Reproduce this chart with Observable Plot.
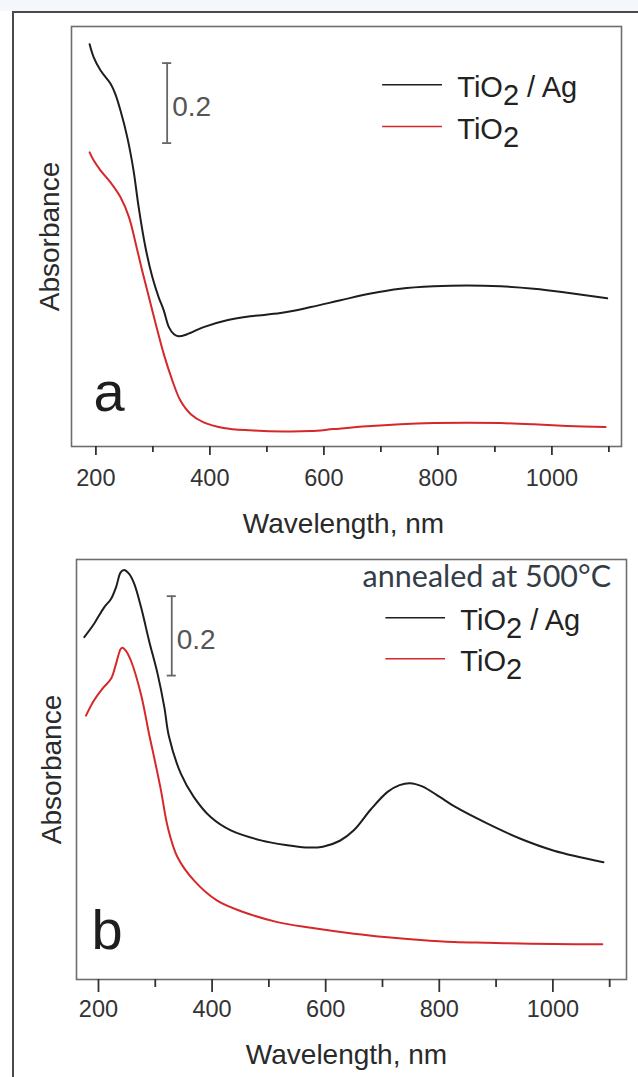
<!DOCTYPE html>
<html><head><meta charset="utf-8">
<script src="https://cdn.jsdelivr.net/npm/d3@7"></script>
<script src="https://cdn.jsdelivr.net/npm/@observablehq/plot@0.6"></script>
<style>
html,body{margin:0;padding:0;width:638px;height:1077px;overflow:hidden;background:#fff;}
#band{position:absolute;left:0;top:0;width:638px;height:11px;background:#f4f8fc;}
#box{position:absolute;left:12px;top:11px;width:700px;height:1200px;border:2px solid #4a4a4a;box-sizing:border-box;background:#fff;}
#pa,#pb{position:absolute;left:0;}
#pa{top:0px}
#pb{top:540px}
</style></head><body>
<div id="band"></div><div id="box"></div>
<div id="pa"></div><div id="pb"></div>
<script>
// ---------- data ----------
// Panel a: as-deposited
const aWavelengthAg = [189,196,208,226,234,243,255,266,275,287,299,310,319,328,337,345,360,389,430,471,524,577,629,682,734,793,851,910,968,1027,1097];
const aAbsAg        = [1.008,0.976,0.943,0.909,0.884,0.843,0.776,0.693,0.601,0.500,0.426,0.376,0.343,0.301,0.283,0.278,0.283,0.301,0.318,0.328,0.336,0.351,0.368,0.385,0.397,0.403,0.405,0.403,0.397,0.387,0.373];
const aWavelengthTi = [189,196,208,226,243,258,270,281,293,305,319,334,348,366,389,424,471,530,577,617,676,734,793,851,910,968,1027,1094];
const aAbsTi        = [0.738,0.718,0.693,0.662,0.626,0.576,0.509,0.443,0.376,0.309,0.234,0.168,0.118,0.084,0.063,0.049,0.043,0.040,0.041,0.046,0.053,0.058,0.061,0.062,0.061,0.058,0.054,0.051];
// Panel b: annealed at 500 °C
const bWavelengthAg = [175,192,210,222,231,239,245,254,263,275,289,304,316,324,345,368,398,433,486,530,565,595,625,650,679,709,730,748,770,800,826,885,943,1002,1089];
const bAbsAg        = [0.860,0.893,0.935,0.956,0.986,1.023,1.029,1.019,0.994,0.935,0.851,0.768,0.683,0.610,0.516,0.457,0.406,0.373,0.348,0.336,0.330,0.332,0.347,0.374,0.425,0.470,0.487,0.492,0.484,0.458,0.434,0.390,0.352,0.322,0.293];
const bWavelengthTi = [178,192,207,222,231,239,242,248,257,275,289,298,310,322,339,368,409,456,515,574,650,709,767,826,885,943,1002,1087];
const bAbsTi        = [0.662,0.700,0.730,0.755,0.793,0.830,0.833,0.826,0.801,0.715,0.616,0.557,0.474,0.381,0.306,0.247,0.196,0.167,0.142,0.128,0.113,0.104,0.097,0.092,0.090,0.088,0.087,0.086];

const majorTicks = [200,400,600,800,1000];
const minorTicks = [300,500,700,900,1100];
const seriesLabels = ["TiO2 / Ag","TiO2"];
const panelLetters = ["a","b"];
const annealNote = "annealed at 500°C";
const scaleBarLabel = "0.2";
const xLabel = "Wavelength, nm";
const yLabel = "Absorbance";

// ---------- drawing ----------
const BLACK = "#1e1e1e", RED = "#d6282b";
const FONT = "'Liberation Sans', Arial, Helvetica, sans-serif";
const rows = (l, a) => l.map((v, i) => ({l: v, a: a[i]}));

function subscriptTiO2(svg) {
  const ns = "http://www.w3.org/2000/svg";
  for (const t of svg.querySelectorAll("text")) {
    const s = t.textContent;
    if (s.startsWith("TiO2") && t.children.length === 0) {
      t.textContent = "TiO";
      const sub = document.createElementNS(ns, "tspan");
      sub.setAttribute("dy", "0.27em"); sub.textContent = "2"; t.append(sub);
      const rest = s.slice(4);
      if (rest) {
        const r = document.createElementNS(ns, "tspan");
        r.setAttribute("dy", "-0.27em"); r.textContent = rest; t.append(r);
      }
    }
  }
}

function panel(c) {
  const marks = [
    Plot.frame({stroke: "#6e6e6e", strokeWidth: 1.6}),
    Plot.axisX({ticks: majorTicks, tickSize: c.tickMajor, tickPadding: c.tickPad, tickFormat: "d",
      fontSize: 23.5, strokeWidth: 1.8, label: null}),
    Plot.axisX({ticks: minorTicks, tickSize: c.tickMinor, tickFormat: () => "", strokeWidth: 1.8, label: null}),
    Plot.line(rows(c.lTi, c.aTi), {x: "l", y: "a", stroke: RED, strokeWidth: 2, curve: "catmull-rom"}),
    Plot.line(rows(c.lAg, c.aAg), {x: "l", y: "a", stroke: BLACK, strokeWidth: 2, curve: "catmull-rom"}),
    // scale bar
    Plot.ruleX([c.bar], {x: "x", y1: "y1", y2: "y2", stroke: "#666", strokeWidth: 1.8}),
    Plot.ruleY([c.bar.y1, c.bar.y2], {y: d => d, x1: c.bar.x - 8, x2: c.bar.x + 8, stroke: "#666", strokeWidth: 1.8}),
    Plot.text([c.bar], {x: "x", y: d => (d.y1 + d.y2) / 2, text: () => scaleBarLabel, textAnchor: "start",
      dx: 5, dy: 4, fontSize: 28, fill: "#555"}),
    // legend
    Plot.ruleY([c.leg.y[0]], {y: d => d, x1: c.leg.x1, x2: c.leg.x2, stroke: BLACK, strokeWidth: 1.6}),
    Plot.ruleY([c.leg.y[1]], {y: d => d, x1: c.leg.x1, x2: c.leg.x2, stroke: RED, strokeWidth: 1.6}),
    Plot.text(seriesLabels, {x: c.leg.xt, y: (d, i) => c.leg.y[i], text: d => d, textAnchor: "start",
      lineAnchor: "middle", dy: 3, fontSize: 29, fill: "#222"}),
    // panel letter
    Plot.text([c.letter], {frameAnchor: "bottom-left", text: d => d, textAnchor: "start", lineAnchor: "bottom",
      dx: c.letterDx, dy: c.letterDy, fontSize: 56, fill: "#1e1e1e"}),
    // axis titles
    Plot.text([xLabel], {frameAnchor: "bottom", text: d => d, textAnchor: "middle", lineAnchor: "bottom",
      dx: c.xlDx, dy: c.xlDy, fontSize: 28, fill: "#2a2a2a"}),
    Plot.text([yLabel], {frameAnchor: "left", text: d => d, textAnchor: "middle", lineAnchor: "middle",
      rotate: -90, dx: c.ylDx, fontSize: 28, fill: "#2a2a2a"})
  ];
  if (c.note) marks.push(Plot.text([c.note], {x: c.noteX, y: c.noteY, text: d => d, textAnchor: "start",
    lineAnchor: "bottom", fontFamily: "Lato, 'Open Sans', sans-serif", fontSize: 30.5, fill: "#333d48"}));
  const svg = Plot.plot({
    width: 638, height: c.height,
    marginLeft: c.ml, marginRight: c.mr, marginTop: c.mt, marginBottom: c.mb,
    x: {domain: c.xDomain},
    y: {domain: c.yDomain, axis: null},
    style: {background: "transparent", fontFamily: FONT, color: "#333", overflow: "visible"},
    marks
  });
  subscriptTiO2(svg);
  return svg;
}

document.getElementById("pa").append(panel({
  height: 540, ml: 71, mr: 17, mt: 26, mb: 94,
  xDomain: [157.2, 1122.1], yDomain: [0.0025, 1.0525],
  tickMajor: 9, tickMinor: 6, tickPad: 14,
  lAg: aWavelengthAg, aAg: aAbsAg, lTi: aWavelengthTi, aTi: aAbsTi,
  bar: {x: 325, y1: 0.761, y2: 0.961},
  leg: {x1: 703, x2: 808, xt: 834, y: [0.907, 0.8025]},
  letter: panelLetters[0], letterDx: 22, letterDy: -36,
  xlDx: -3, xlDy: 86, ylDx: -21
}));

document.getElementById("pb").append(panel({
  height: 537, ml: 76, mr: 12, mt: 19, mb: 98,
  xDomain: [161.3, 1129.6], yDomain: [-0.0025, 1.0554],
  tickMajor: 13, tickMinor: 8, tickPad: 8,
  lAg: bWavelengthAg, aAg: bAbsAg, lTi: bWavelengthTi, aTi: bAbsTi,
  bar: {x: 329, y1: 0.763, y2: 0.963},
  leg: {x1: 706, x2: 811, xt: 837, y: [0.9086, 0.8053]},
  letter: panelLetters[1], letterDx: 15, letterDy: -31,
  xlDx: -5, xlDy: 84, ylDx: -24,
  note: annealNote, noteX: 665, noteY: 0.986
}));
</script></body></html>
